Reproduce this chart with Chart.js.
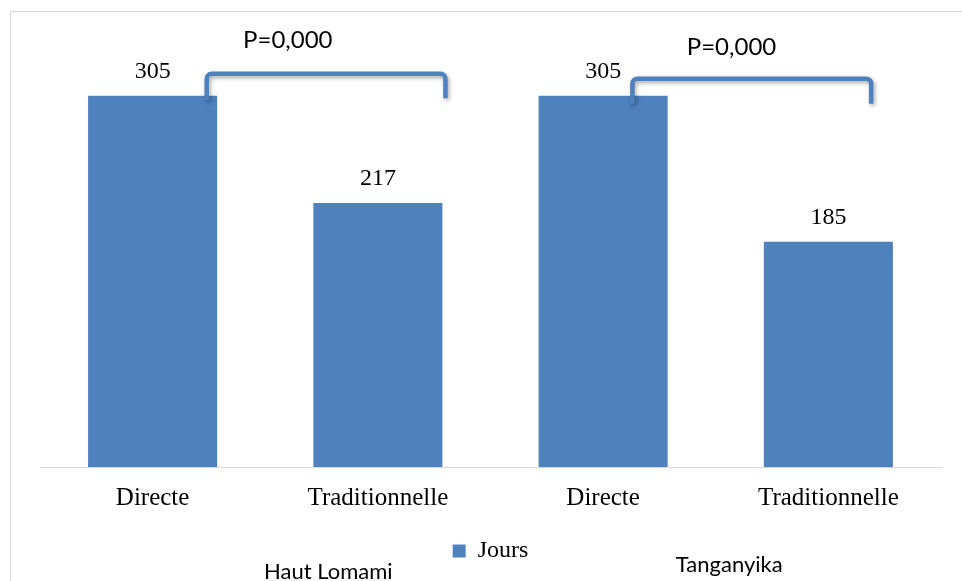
<!DOCTYPE html>
<html>
<head>
<meta charset="utf-8">
<script src="https://cdn.jsdelivr.net/npm/chart.js@4.4.1/dist/chart.umd.min.js"></script>
<style>
  html, body { margin: 0; padding: 0; background: #ffffff; }
  #wrap { width: 962px; height: 581px; position: relative; }
</style>
</head>
<body>
<div id="wrap"><canvas id="c" width="962" height="581"></canvas></div>
<script>
// Categories along the x axis (two per province)
const categories = ['Directe', 'Traditionnelle', 'Directe', 'Traditionnelle'];
// Duration in days
const jours = [305, 217, 305, 185];
const seriesName = 'Jours';

// Province labels under each pair of bars
const provinces = ['Haut Lomami', 'Tanganyika'];

// Significance brackets: spans in category units, heights in days
const pLabels = ['P=0,000', 'P=0,000'];
const bracketLeft = [0.24, 2.13];
const bracketRight = [1.30, 3.19];
const bracketTop = [323, 319];
const bracketLegLeft = [301.5, 298.5];
const bracketLegRight = [303, 298.5];
const pLabelX = [0.60, 2.57];
const pLabelY = [351, 345];

const BLUE = '#4f81bd';
const SERIF = '"Liberation Serif", "DejaVu Serif", serif';
const SANS = 'Lato, "Liberation Sans", sans-serif';

function catPixel(scale, v) {
  const i = Math.floor(v);
  const f = v - i;
  const a = scale.getPixelForValue(i);
  const b = scale.getPixelForValue(i + 1);
  return a + f * (b - a);
}

const decorations = {
  id: 'decorations',
  beforeDraw(chart) {
    const ctx = chart.ctx;
    ctx.save();
    ctx.strokeStyle = '#d9d9d9';
    ctx.lineWidth = 1;
    ctx.beginPath();
    ctx.moveTo(10.5, 581);
    ctx.lineTo(10.5, 11.5);
    ctx.lineTo(962, 11.5);
    ctx.stroke();
    ctx.restore();
  },
  afterDatasetsDraw(chart) {
    const ctx = chart.ctx;
    const xs = chart.scales.x;
    const ys = chart.scales.y;
    const meta = chart.getDatasetMeta(0);

    // value labels above bars
    ctx.save();
    ctx.fillStyle = '#000';
    ctx.font = '24px ' + SERIF;
    ctx.textAlign = 'center';
    ctx.textBaseline = 'alphabetic';
    meta.data.forEach((bar, i) => {
      ctx.fillText(String(jours[i]), bar.x, bar.y - 18);
    });
    ctx.restore();

    // brackets
    for (let k = 0; k < pLabels.length; k++) {
      const x1 = catPixel(xs, bracketLeft[k]);
      const x2 = catPixel(xs, bracketRight[k]);
      const yt = ys.getPixelForValue(bracketTop[k]);
      const y1 = ys.getPixelForValue(bracketLegLeft[k]);
      const y2 = ys.getPixelForValue(bracketLegRight[k]);
      ctx.save();
      ctx.strokeStyle = BLUE;
      ctx.lineWidth = 4.5;
      ctx.lineJoin = 'round';
      ctx.shadowColor = 'rgba(0,0,0,0.35)';
      ctx.shadowBlur = 4;
      ctx.shadowOffsetX = 1.5;
      ctx.shadowOffsetY = 2;
      ctx.beginPath();
      ctx.moveTo(x1, y1);
      ctx.arcTo(x1, yt, x2, yt, 5);
      ctx.arcTo(x2, yt, x2, y2, 5);
      ctx.lineTo(x2, y2);
      ctx.stroke();
      ctx.restore();

      ctx.save();
      ctx.fillStyle = '#000';
      ctx.font = '24px ' + SANS;
      ctx.textAlign = 'center';
      ctx.textBaseline = 'middle';
      ctx.fillText(pLabels[k], catPixel(xs, pLabelX[k]), ys.getPixelForValue(pLabelY[k]));
      ctx.restore();
    }
  },
  afterDraw(chart) {
    const ctx = chart.ctx;
    const xs = chart.scales.x;
    ctx.save();
    ctx.fillStyle = '#000';
    ctx.font = '22px ' + SANS;
    ctx.textAlign = 'center';
    ctx.textBaseline = 'alphabetic';
    ctx.fillText(provinces[0], catPixel(xs, 0.78), 579);
    ctx.fillText(provinces[1], catPixel(xs, 2.56), 572);
    ctx.restore();
  }
};

new Chart(document.getElementById('c'), {
  type: 'bar',
  data: {
    labels: categories,
    datasets: [{
      label: seriesName,
      data: jours,
      backgroundColor: BLUE,
      borderWidth: 0,
      categoryPercentage: 1.0,
      barPercentage: 0.573
    }]
  },
  options: {
    responsive: false,
    animation: false,
    devicePixelRatio: 1,
    layout: { padding: { left: 40, right: 21, top: 41, bottom: 8 } },
    plugins: {
      legend: {
        display: true,
        position: 'bottom',
        labels: {
          color: '#000',
          font: { family: SERIF, size: 24 },
          boxWidth: 13,
          boxHeight: 13,
          padding: 10
        }
      },
      tooltip: { enabled: false }
    },
    scales: {
      x: {
        grid: { display: false, drawTicks: false },
        border: { display: true, color: '#d9d9d9', width: 1 },
        ticks: {
          color: '#000',
          font: { family: SERIF, size: 25 },
          padding: 16,
          maxRotation: 0
        }
      },
      y: {
        display: false,
        min: 0,
        max: 350
      }
    }
  },
  plugins: [decorations]
});
</script>
</body>
</html>
